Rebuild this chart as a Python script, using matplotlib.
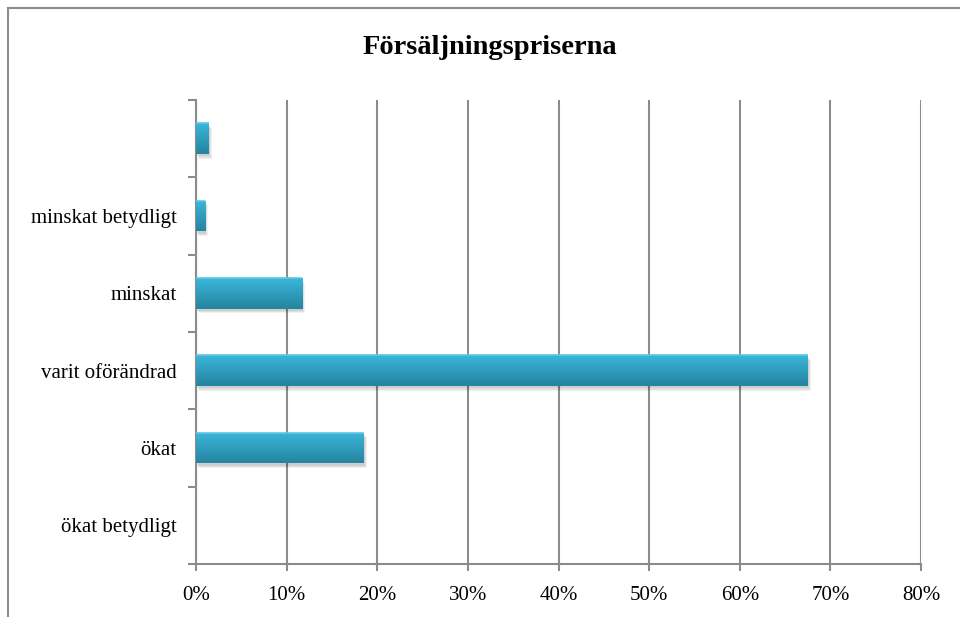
import matplotlib
matplotlib.use("Agg")
import matplotlib.pyplot as plt
import numpy as np
from matplotlib.lines import Line2D
from matplotlib.ticker import FixedLocator, FuncFormatter
from matplotlib.colors import LinearSegmentedColormap

categories = ["ökat betydligt", "ökat", "varit oförändrad", "minskat", "minskat betydligt", ""]
values = [0.0, 18.5, 67.5, 11.7, 1.0, 1.4]
xticks = [0, 10, 20, 30, 40, 50, 60, 70, 80]
title = "Försäljningspriserna"

plt.rcParams['font.family'] = ['Liberation Serif', 'DejaVu Serif']

fig = plt.figure(figsize=(9.6, 6.17), dpi=100)
ax = fig.add_axes([196/960, 53/617, (921-196)/960, (564-100)/617])

y = np.arange(len(categories))
h = 0.4
grid_c = "#8c8c8c"

# soft shadows
for dy, dx, a in [(-0.06, 0.35, 0.05), (-0.045, 0.25, 0.07), (-0.03, 0.15, 0.08)]:
    ax.barh(y + dy, values, height=h, left=dx, color="#000000", alpha=a, zorder=2, linewidth=0)
bars = ax.barh(y, values, height=h, color="#32a9cc", zorder=3, linewidth=0)

grad = np.linspace(0, 1, 64).reshape(-1, 1)
cmap = LinearSegmentedColormap.from_list("g", ["#2584a0", "#3bb6da"])
for b, v in zip(bars, values):
    if v <= 0:
        continue
    x0, y0 = b.get_x(), b.get_y()
    im = ax.imshow(grad, extent=[x0, x0 + b.get_width(), y0, y0 + b.get_height()],
                   origin="lower", cmap=cmap, aspect="auto", zorder=4, interpolation="bilinear")
    im.set_clip_path(b)
    ax.plot([x0, x0 + b.get_width()], [y0 + b.get_height(), y0 + b.get_height()],
            color="#5cc6e4", lw=1.2, zorder=5, solid_capstyle="butt")

ax.set_xlim(0, 80)
ax.set_ylim(-0.5, len(categories) - 0.5)
ax.set_xticks(xticks)
ax.xaxis.set_major_formatter(FuncFormatter(lambda v, p: f"{int(v)}%"))
ax.set_yticks(y)
ax.set_yticklabels(categories)
ax.yaxis.set_minor_locator(FixedLocator(np.arange(-0.5, len(categories), 1.0)))
ax.tick_params(axis="y", which="major", length=0, pad=14, labelsize=15)
ax.tick_params(axis="y", which="minor", length=6, width=1.5, color=grid_c, direction="out")
ax.tick_params(axis="x", length=5, width=1.5, color=grid_c, direction="out", pad=11, labelsize=15)

ax.grid(axis="x", color=grid_c, lw=1.5, zorder=0)
ax.set_axisbelow(True)
for s in ["top", "right"]:
    ax.spines[s].set_visible(False)
for s in ["left", "bottom"]:
    ax.spines[s].set_color(grid_c)
    ax.spines[s].set_linewidth(1.5)

fig.text(490/960, 1 - 48/617, title, ha="center", va="center", fontsize=20.5, fontweight="bold")

fig.add_artist(Line2D([8/960, 1], [1 - 8/617, 1 - 8/617], color=grid_c, lw=1.5, transform=fig.transFigure))
fig.add_artist(Line2D([8/960, 8/960], [0, 1 - 8/617], color=grid_c, lw=1.5, transform=fig.transFigure))

fig.savefig("out.png", dpi=100)
